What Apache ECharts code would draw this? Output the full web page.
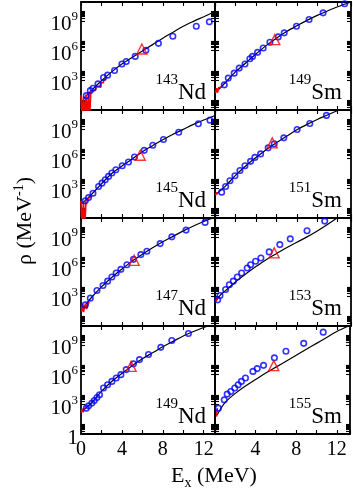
<!DOCTYPE html>
<html><head><meta charset="utf-8">
<script src="https://cdn.jsdelivr.net/npm/echarts@6/dist/echarts.min.js"></script>
<style>html,body{margin:0;padding:0;background:#fff}#c{width:353px;height:492px}</style>
</head><body><div id="c"></div>
<script>
// ---- data: excitation energy Ex (MeV) and log10 of level density rho (MeV^-1) ----
// 143Nd
const nd143Ex = [0.52, 0.91, 1.17, 1.66, 2.2, 2.6, 3.28, 4.0, 4.42, 5.3, 6.34, 7.57, 8.98, 11.27, 12.55];
const nd143LogRho = [1.45, 1.96, 2.2, 2.64, 3.28, 3.52, 3.99, 4.64, 4.9, 5.41, 6.02, 6.73, 7.44, 8.46, 8.9];
const nd143TriEx = [5.95], nd143TriLogRho = [6.16];
const nd143LineEx = [0.3, 1, 2, 3, 4, 5, 6, 7, 8, 9, 10, 11, 12, 13.1];
const nd143LineLogRho = [1.2, 1.95, 2.95, 3.85, 4.65, 5.3, 5.95, 6.6, 7.25, 7.85, 8.45, 8.95, 9.42, 9.95];
const nd143RedEdges = [0, 0.12, 0.24, 0.36, 0.48, 0.6, 0.72, 0.84, 0.96, 1.2, 1.45, 1.7, 1.95, 2.2, 2.45];
const nd143RedLogRho = [1.5, -1, 1.35, -1, 1.55, -1, 1.8, -1, 1.95, 2.05, 2.35, 2.3, 2.75, 3.05];
// 149Sm
const sm149Ex = [0.91, 1.3, 1.88, 2.37, 2.93, 3.41, 3.67, 4.16, 4.71, 5.37, 6.18, 6.77, 7.97, 9.2, 10.57, 12.68];
const sm149LogRho = [2.54, 3.22, 3.72, 4.23, 4.64, 5.18, 5.41, 5.82, 6.26, 6.84, 7.38, 7.79, 8.46, 9.14, 9.81, 10.73];
const sm149TriEx = [5.85], sm149TriLogRho = [7.1];
const sm149LineEx = [0.3, 1, 2, 3, 4, 5, 6, 7, 8, 9, 10, 11, 12, 13.3];
const sm149LineLogRho = [2.0, 2.75, 3.85, 4.75, 5.65, 6.5, 7.25, 7.92, 8.5, 9.05, 9.55, 10.0, 10.42, 10.9];
const sm149RedEdges = [0.05, 0.15, 0.25, 0.35, 0.5, 0.7];
const sm149RedLogRho = [1.7, 2.2, 1.75, 2.25, 2.35];
// 145Nd
const nd145Ex = [0.42, 0.74, 1.17, 1.72, 2.05, 2.37, 2.69, 3.02, 3.41, 4.03, 4.64, 5.23, 6.18, 7.02, 8.06, 9.55, 11.47, 12.61];
const nd145LogRho = [1.73, 2.06, 2.5, 3.18, 3.52, 3.86, 4.2, 4.54, 4.87, 5.28, 5.65, 6.16, 6.83, 7.34, 7.92, 8.65, 9.51, 9.88];
const nd145TriEx = [5.79], nd145TriLogRho = [6.33];
const nd145LineEx = [0.1, 0.5, 1, 2, 3, 4, 5, 6, 7, 8, 9, 10, 11, 12, 13.1];
const nd145LineLogRho = [1.45, 1.85, 2.35, 3.45, 4.5, 5.25, 5.95, 6.7, 7.3, 7.9, 8.45, 8.95, 9.45, 9.9, 10.35];
const nd145RedEdges = [0, 0.12, 0.24, 0.36, 0.5, 0.7, 0.9, 1.1];
const nd145RedLogRho = [1.75, -1, 1.65, -1, 1.95, 2.1, 2.3];
// 151Sm
const sm151Ex = [0.65, 1.04, 1.46, 1.95, 2.44, 2.93, 3.48, 3.9, 4.46, 5.2, 5.79, 6.73, 8.03, 9.27, 10.9];
const sm151LogRho = [2.61, 3.18, 3.76, 4.26, 4.8, 5.28, 5.72, 6.12, 6.47, 7.08, 7.48, 8.09, 8.93, 9.54, 10.36];
const sm151TriEx = [5.6], sm151TriLogRho = [7.58];
const sm151LineEx = [0.15, 0.5, 1, 2, 3, 4, 5, 6, 7, 8, 9, 10, 11, 12];
const sm151LineLogRho = [2.4, 2.75, 3.2, 4.3, 5.25, 6.1, 6.9, 7.6, 8.25, 8.9, 9.45, 9.95, 10.4, 10.85];
const sm151RedEdges = [0.05, 0.15, 0.3];
const sm151RedLogRho = [2.3, 2.55];
// 147Nd
const nd147Ex = [0.42, 0.91, 1.56, 2.15, 2.6, 3.02, 3.44, 3.9, 4.49, 5.13, 5.85, 6.44, 7.74, 8.88, 10.27, 12.13];
const nd147LogRho = [2.13, 2.81, 3.58, 4.09, 4.53, 4.94, 5.35, 5.72, 6.19, 6.73, 7.21, 7.54, 8.32, 9.0, 9.68, 10.46];
const nd147TriEx = [5.2], nd147TriLogRho = [6.63];
const nd147LineEx = [0.1, 0.5, 1, 2, 3, 4, 5, 6, 7, 8, 9, 10, 11, 12, 13.1];
const nd147LineLogRho = [1.6, 2.2, 2.85, 3.95, 4.9, 5.75, 6.55, 7.25, 7.9, 8.5, 9.05, 9.6, 10.1, 10.55, 11.0];
const nd147RedEdges = [0.05, 0.15, 0.25, 0.35, 0.45, 0.55, 0.7, 0.85];
const nd147RedLogRho = [1.45, 2.2, 1.4, 2.0, 2.25, 1.7, 2.35];
// 153Sm
const sm153Ex = [0.26, 0.49, 1.04, 1.4, 1.79, 2.18, 2.6, 3.15, 3.48, 3.97, 4.49, 5.3, 6.34, 7.36, 9.0, 10.73];
const sm153LogRho = [2.64, 3.08, 3.69, 4.16, 4.53, 4.94, 5.35, 5.86, 6.19, 6.53, 6.87, 7.48, 8.22, 8.8, 9.62, 10.59];
const sm153TriEx = [5.79], sm153TriLogRho = [7.38];
const sm153LineEx = [0.1, 0.5, 1, 2, 3, 4, 5, 6, 7, 8, 9, 10, 11, 12];
const sm153LineLogRho = [2.5, 3.1, 3.55, 4.45, 5.25, 6.0, 6.7, 7.3, 7.9, 8.45, 9.0, 9.6, 10.25, 10.95];
const sm153RedEdges = [0.08, 0.18, 0.3];
const sm153RedLogRho = [2.5, 2.8];
// 149Nd
const nd149Ex = [0.52, 0.74, 1.07, 1.3, 1.56, 1.81, 2.2, 2.6, 3.02, 3.44, 3.9, 4.42, 5.13, 5.72, 6.6, 7.8, 8.88, 10.5];
const nd149LogRho = [2.61, 2.84, 3.12, 3.38, 3.69, 3.96, 4.64, 4.97, 5.31, 5.65, 5.99, 6.5, 7.08, 7.51, 8.02, 8.75, 9.44, 10.15];
const nd149TriEx = [4.9], nd149TriLogRho = [6.83];
const nd149LineEx = [0.05, 1, 2, 3, 4, 5, 6, 7, 8, 9, 10, 11, 12, 13.1];
const nd149LineLogRho = [2.25, 3.1, 4.3, 5.3, 6.1, 6.9, 7.6, 8.2, 8.8, 9.35, 9.9, 10.35, 10.75, 11.2];
const nd149RedEdges = [0.02, 0.12, 0.22, 0.32, 0.45];
const nd149RedLogRho = [2.15, 2.55, 2.2, 2.6];
// 155Sm
const sm155Ex = [0.33, 0.91, 1.2, 1.56, 1.95, 2.28, 2.6, 3.0, 3.74, 4.16, 4.78, 5.85, 6.99, 8.74, 10.66];
const sm155LogRho = [2.61, 3.45, 4.03, 4.29, 4.64, 4.97, 5.31, 5.65, 6.32, 6.6, 6.93, 7.69, 8.36, 9.15, 10.28];
const sm155TriEx = [5.79], sm155TriLogRho = [6.9];
const sm155LineEx = [0.2, 0.5, 1, 2, 3, 4, 5, 6, 7, 8, 9, 10, 11, 12, 13.3];
const sm155LineLogRho = [1.9, 2.45, 3.2, 4.1, 4.85, 5.5, 6.15, 6.75, 7.35, 7.95, 8.55, 9.15, 9.75, 10.35, 10.95];
const sm155RedEdges = [0.15, 0.22, 0.3];
const sm155RedLogRho = [1.75, 2.55];

// axis ticks / labels
const xTickLabels = [0, 4, 8, 12];
const yLabelValues = [1, 1e3, 1e6, 1e9];
const yMajorTicks = [1, 1e3, 1e6, 1e9];
const yMinorMultipliers = [2, 3, 4, 5, 6, 7, 8, 9];
const Y_MAX = 8e10;

const panels = [
  {mass:'143', el:'Nd', ex:nd143Ex, r:nd143LogRho, tx:nd143TriEx, tr:nd143TriLogRho, lx:nd143LineEx, lr:nd143LineLogRho, re:nd143RedEdges, rr:nd143RedLogRho},
  {mass:'149', el:'Sm', ex:sm149Ex, r:sm149LogRho, tx:sm149TriEx, tr:sm149TriLogRho, lx:sm149LineEx, lr:sm149LineLogRho, re:sm149RedEdges, rr:sm149RedLogRho},
  {mass:'145', el:'Nd', ex:nd145Ex, r:nd145LogRho, tx:nd145TriEx, tr:nd145TriLogRho, lx:nd145LineEx, lr:nd145LineLogRho, re:nd145RedEdges, rr:nd145RedLogRho},
  {mass:'151', el:'Sm', ex:sm151Ex, r:sm151LogRho, tx:sm151TriEx, tr:sm151TriLogRho, lx:sm151LineEx, lr:sm151LineLogRho, re:sm151RedEdges, rr:sm151RedLogRho},
  {mass:'147', el:'Nd', ex:nd147Ex, r:nd147LogRho, tx:nd147TriEx, tr:nd147TriLogRho, lx:nd147LineEx, lr:nd147LineLogRho, re:nd147RedEdges, rr:nd147RedLogRho},
  {mass:'153', el:'Sm', ex:sm153Ex, r:sm153LogRho, tx:sm153TriEx, tr:sm153TriLogRho, lx:sm153LineEx, lr:sm153LineLogRho, re:sm153RedEdges, rr:sm153RedLogRho},
  {mass:'149', el:'Nd', ex:nd149Ex, r:nd149LogRho, tx:nd149TriEx, tr:nd149TriLogRho, lx:nd149LineEx, lr:nd149LineLogRho, re:nd149RedEdges, rr:nd149RedLogRho},
  {mass:'155', el:'Sm', ex:sm155Ex, r:sm155LogRho, tx:sm155TriEx, tr:sm155TriLogRho, lx:sm155LineEx, lr:sm155LineLogRho, re:sm155RedEdges, rr:sm155RedLogRho}
];

const FONT = 'Liberation Serif';
const toRho = v => Math.pow(10, v);
const pairs = (xs, ys) => xs.map((x, i) => [x, toRho(ys[i])]);

const yTickValues = [];
yMajorTicks.forEach(m => { yTickValues.push(m); yMinorMultipliers.forEach(k => yTickValues.push(k * m)); });

const grids = [], xAxes = [], yAxes = [], series = [], graphics = [];
panels.forEach((p, i) => {
  const row = Math.floor(i / 2), col = i % 2;
  const left = col === 0 ? 81 : 215, width = col === 0 ? 134 : 136;
  const top = 2 + row * 108, height = 108;
  const xmax = col === 0 ? 13.1 : 13.3;
  grids.push({left, top, width, height});
  const axLine = {show: true, onZero: false, lineStyle: {color: '#000', width: 1.8}};
  const tick = {show: true, inside: true, length: 4, lineStyle: {color: '#000', width: 1.1}};
  xAxes.push({type: 'value', gridIndex: i, position: 'bottom', min: 0, max: xmax, interval: 2,
    axisLine: axLine, axisTick: tick, splitLine: {show: false},
    axisLabel: {show: row === 3, margin: 6, fontFamily: FONT, fontSize: 20, color: '#000',
      formatter: v => (xTickLabels.indexOf(v) >= 0 && !(col === 1 && v === 0)) ? String(v) : ''}});
  xAxes.push({type: 'value', gridIndex: i, position: 'top', min: 0, max: xmax, interval: 2,
    axisLine: axLine, axisTick: tick, splitLine: {show: false}, axisLabel: {show: false}});
  const yCommon = {type: 'log', logBase: 10, gridIndex: i, min: 1, max: Y_MAX, interval: 3,
    axisLine: axLine, axisTick: Object.assign({}, tick, {customValues: yTickValues}),
    splitLine: {show: false}, minorTick: {show: false}};
  yAxes.push(Object.assign({}, yCommon, {position: 'left',
    axisLabel: {show: col === 0, margin: 3, color: '#000',
      customValues: row === 3 ? yLabelValues : yLabelValues.slice(1),
      formatter: v => {
        const e = Math.round(Math.log10(v));
        if (e === 0) return row === 3 ? '{b|1}' : '';
        if (e % 3 !== 0 || e > 9) return '';
        return '{b|10}{s|' + e + '}';
      },
      rich: {
        b: {fontFamily: FONT, fontSize: 21, color: '#000', padding: [8, 0, 0, 0]},
        s: {fontFamily: FONT, fontSize: 13, color: '#000', padding: [0, 0, 8, 0]}
      }}}));
  yAxes.push(Object.assign({}, yCommon, {position: 'right', axisLabel: {show: false}}));

  // model curve
  series.push({type: 'line', xAxisIndex: 2 * i, yAxisIndex: 2 * i, data: pairs(p.lx, p.lr),
    showSymbol: false, smooth: 0.3, lineStyle: {color: '#000', width: 1.2}, z: 2, silent: true});
  // discrete-level histogram (step outline)
  const red = [];
  p.rr.forEach((v, k) => { red.push([p.re[k], toRho(v)]); red.push([p.re[k + 1], toRho(v)]); });
  series.push({type: 'line', xAxisIndex: 2 * i, yAxisIndex: 2 * i, data: red, showSymbol: false,
    lineStyle: {color: '#ff0000', width: 1.6}, z: 3, silent: true});
  // experimental points
  series.push({type: 'scatter', xAxisIndex: 2 * i, yAxisIndex: 2 * i, data: pairs(p.ex, p.r),
    symbol: 'circle', symbolSize: 5.5,
    itemStyle: {color: 'rgba(0,0,0,0)', borderColor: '#0000ff', borderWidth: 1.6}, z: 4, silent: true});
  // neutron resonance point
  series.push({type: 'scatter', xAxisIndex: 2 * i, yAxisIndex: 2 * i, data: pairs(p.tx, p.tr),
    symbol: 'triangle', symbolSize: 10,
    itemStyle: {color: 'rgba(0,0,0,0)', borderColor: '#ff0000', borderWidth: 1.4}, z: 5, silent: true});

  graphics.push({type: 'text', x: left + width - 9, y: top + height - 17,
    style: {text: '{s|' + p.mass + '}{b|' + p.el + '}', align: 'right', verticalAlign: 'middle',
      rich: {
        s: {fontFamily: FONT, fontSize: 15, fill: '#000', padding: [0, 0, 25, 0]},
        b: {fontFamily: FONT, fontSize: 23, fill: '#000'}
      }}});
});

graphics.push({type: 'text', x: 25, y: 221, rotation: Math.PI / 2,
  style: {text: '{a|\u03c1 (MeV}{s|-1}{a|)}', align: 'center', verticalAlign: 'middle',
    rich: {
      a: {fontFamily: FONT, fontSize: 22, fill: '#000'},
      s: {fontFamily: FONT, fontSize: 14, fill: '#000', padding: [0, 0, 12, 0]}
    }}});
graphics.push({type: 'text', x: 214, y: 476,
  style: {text: '{a|E}{sub|x}{a| (MeV)}', align: 'center', verticalAlign: 'middle',
    rich: {
      a: {fontFamily: FONT, fontSize: 22, fill: '#000'},
      sub: {fontFamily: FONT, fontSize: 14, fill: '#000', padding: [14, 0, 0, 0]}
    }}});

const chart = echarts.init(document.getElementById('c'), null, {renderer: 'canvas'});
chart.setOption({
  animation: false,
  backgroundColor: '#fff',
  grid: grids, xAxis: xAxes, yAxis: yAxes, series: series, graphic: graphics
});
</script>
</body></html>
